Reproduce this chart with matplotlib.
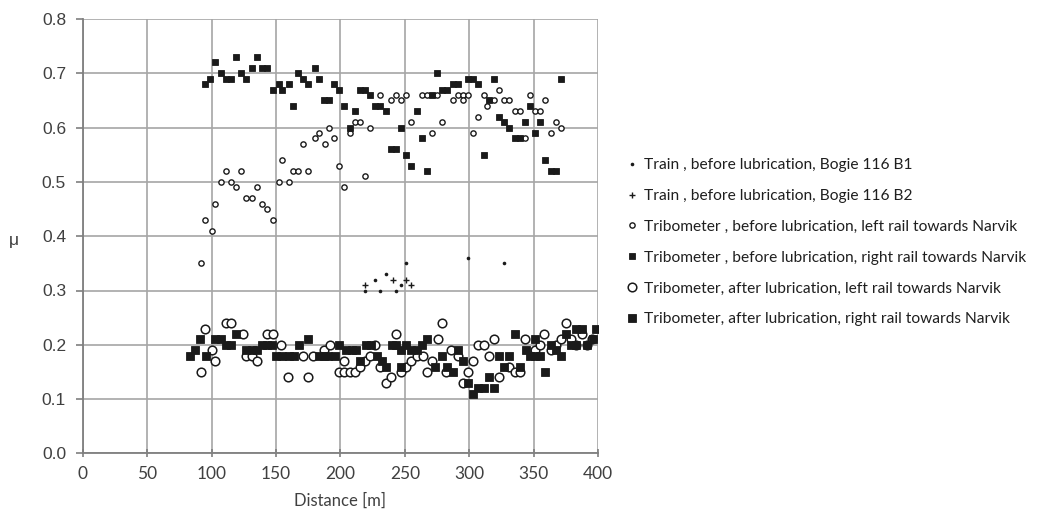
import matplotlib
matplotlib.use("Agg")
import matplotlib.pyplot as plt
from matplotlib.lines import Line2D

# Distance along the track [m] and friction coefficient mu for each series
train_b1_x = [219, 227, 231, 235, 243, 247, 251, 299, 327]
train_b1_y = [0.30, 0.32, 0.30, 0.33, 0.30, 0.31, 0.35, 0.36, 0.35]

train_b2_x = [219, 241, 251, 255]
train_b2_y = [0.31, 0.32, 0.32, 0.31]

tribo_before_left_x = [92, 95, 100, 103, 107, 111, 115, 119, 123, 127,
                       131, 135, 139, 143, 148, 152, 155, 160, 163, 167,
                       171, 175, 180, 183, 188, 191, 195, 199, 203, 207,
                       211, 215, 219, 223, 231, 239, 243, 247, 251, 255,
                       263, 267, 271, 275, 279, 287, 291, 295, 295, 299,
                       303, 307, 311, 314, 319, 323, 327, 331, 335, 339,
                       343, 347, 351, 355, 359, 363, 367, 371]
tribo_before_left_y = [0.35, 0.43, 0.41, 0.46, 0.50, 0.52, 0.50, 0.49, 0.52, 0.47,
                       0.47, 0.49, 0.46, 0.45, 0.43, 0.50, 0.54, 0.50, 0.52, 0.52,
                       0.57, 0.52, 0.58, 0.59, 0.57, 0.60, 0.58, 0.53, 0.49, 0.59,
                       0.61, 0.61, 0.51, 0.60, 0.66, 0.65, 0.66, 0.65, 0.66, 0.61,
                       0.66, 0.66, 0.59, 0.66, 0.61, 0.65, 0.66, 0.66, 0.65, 0.66,
                       0.59, 0.62, 0.66, 0.64, 0.65, 0.67, 0.65, 0.65, 0.63, 0.63,
                       0.58, 0.66, 0.63, 0.63, 0.65, 0.59, 0.61, 0.60]

tribo_before_right_x = [95, 99, 103, 107, 111, 115, 119, 123, 127, 131,
                        135, 139, 143, 148, 152, 155, 160, 163, 167, 171,
                        175, 180, 183, 187, 191, 195, 199, 203, 207, 211,
                        215, 219, 223, 227, 231, 235, 239, 243, 247, 251,
                        255, 259, 263, 267, 271, 275, 279, 283, 287, 291,
                        299, 303, 307, 311, 315, 319, 323, 327, 331, 335,
                        339, 343, 347, 351, 355, 359, 363, 367, 371]
tribo_before_right_y = [0.68, 0.69, 0.72, 0.70, 0.69, 0.69, 0.73, 0.70, 0.69, 0.71,
                        0.73, 0.71, 0.71, 0.67, 0.68, 0.67, 0.68, 0.64, 0.70, 0.69,
                        0.68, 0.71, 0.69, 0.65, 0.65, 0.68, 0.67, 0.64, 0.60, 0.63,
                        0.67, 0.67, 0.66, 0.64, 0.64, 0.63, 0.56, 0.56, 0.60, 0.55,
                        0.53, 0.63, 0.58, 0.52, 0.66, 0.70, 0.67, 0.67, 0.68, 0.68,
                        0.69, 0.69, 0.68, 0.55, 0.65, 0.69, 0.62, 0.61, 0.60, 0.58,
                        0.58, 0.61, 0.64, 0.59, 0.61, 0.54, 0.52, 0.52, 0.69]

tribo_after_left_x = [92, 95, 100, 103, 111, 115, 124, 127, 131, 135,
                      143, 148, 154, 159, 171, 175, 179, 187, 192, 199,
                      203, 203, 207, 211, 215, 219, 223, 227, 231, 235,
                      239, 243, 247, 251, 255, 259, 264, 267, 271, 276,
                      279, 282, 286, 291, 295, 299, 303, 307, 311, 315,
                      319, 323, 331, 335, 339, 343, 351, 355, 358, 363,
                      367, 371, 375, 379, 383, 387, 391, 395]
tribo_after_left_y = [0.15, 0.23, 0.19, 0.17, 0.24, 0.24, 0.22, 0.18, 0.18, 0.17,
                      0.22, 0.22, 0.20, 0.14, 0.18, 0.14, 0.18, 0.19, 0.20, 0.15,
                      0.15, 0.17, 0.15, 0.15, 0.16, 0.17, 0.18, 0.20, 0.16, 0.13,
                      0.14, 0.22, 0.15, 0.16, 0.17, 0.18, 0.18, 0.15, 0.17, 0.21,
                      0.24, 0.15, 0.19, 0.18, 0.13, 0.15, 0.17, 0.20, 0.20, 0.18,
                      0.21, 0.14, 0.16, 0.15, 0.15, 0.21, 0.19, 0.20, 0.22, 0.19,
                      0.20, 0.21, 0.24, 0.21, 0.20, 0.22, 0.20, 0.21]

tribo_after_right_x = [83, 87, 91, 96, 103, 107, 111, 115, 119, 127,
                       131, 135, 139, 143, 147, 150, 155, 160, 164, 168,
                       175, 183, 187, 190, 196, 199, 204, 209, 212, 215,
                       220, 224, 228, 232, 235, 240, 243, 247, 247, 251,
                       255, 259, 263, 267, 273, 279, 283, 287, 291, 295,
                       299, 303, 307, 311, 315, 319, 323, 327, 331, 335,
                       339, 344, 347, 351, 351, 355, 359, 363, 367, 371,
                       375, 379, 383, 383, 387, 391, 396, 398]
tribo_after_right_y = [0.18, 0.19, 0.21, 0.18, 0.21, 0.21, 0.20, 0.20, 0.22, 0.19,
                       0.19, 0.19, 0.20, 0.20, 0.20, 0.18, 0.18, 0.18, 0.18, 0.20,
                       0.21, 0.18, 0.18, 0.18, 0.18, 0.20, 0.19, 0.19, 0.19, 0.17,
                       0.20, 0.20, 0.18, 0.17, 0.16, 0.20, 0.20, 0.19, 0.16, 0.20,
                       0.19, 0.19, 0.20, 0.21, 0.16, 0.18, 0.16, 0.15, 0.19, 0.17,
                       0.13, 0.11, 0.12, 0.12, 0.14, 0.12, 0.18, 0.16, 0.18, 0.22,
                       0.16, 0.19, 0.18, 0.18, 0.21, 0.18, 0.15, 0.20, 0.19, 0.18,
                       0.22, 0.20, 0.20, 0.23, 0.23, 0.20, 0.21, 0.23]

series_labels = [
    "Train , before lubrication, Bogie 116 B1",
    "Train , before lubrication, Bogie 116 B2",
    "Tribometer , before lubrication, left rail towards Narvik",
    "Tribometer , before lubrication, right rail towards Narvik",
    "Tribometer, after lubrication, left rail towards Narvik",
    "Tribometer, after lubrication, right rail towards Narvik",
]

x_ticks = [0, 50, 100, 150, 200, 250, 300, 350, 400]
y_ticks = [0.0, 0.1, 0.2, 0.3, 0.4, 0.5, 0.6, 0.7, 0.8]

W, H = 1048, 514
fig = plt.figure(figsize=(W / 100, H / 100), dpi=100)
ax = fig.add_axes([82.7 / W, 1 - 453.4 / H, (598.3 - 82.7) / W, (453.4 - 19) / H])

ink = "#1a1a1a"
styles = [
    dict(marker="o", ms=2.6, mfc=ink, mec=ink, mew=0.0),
    dict(marker="+", ms=5.0, mfc="none", mec=ink, mew=1.0),
    dict(marker="o", ms=3.8, mfc="white", mec=ink, mew=1.0),
    dict(marker="s", ms=3.8, mfc=ink, mec=ink, mew=0.6),
    dict(marker="o", ms=6.2, mfc="white", mec=ink, mew=1.1),
    dict(marker="s", ms=5.6, mfc=ink, mec=ink, mew=0.6),
]
data = [
    (train_b1_x, train_b1_y),
    (train_b2_x, train_b2_y),
    (tribo_before_left_x, tribo_before_left_y),
    (tribo_before_right_x, tribo_before_right_y),
    (tribo_after_left_x, tribo_after_left_y),
    (tribo_after_right_x, tribo_after_right_y),
]
draw_order = [4, 5, 2, 3, 0, 1]
for i in draw_order:
    xs, ys = data[i]
    ax.plot(xs, ys, linestyle="none", zorder=3 + i, **styles[i])

ax.set_xlim(0, 400)
ax.set_ylim(0, 0.8)
ax.set_xticks(x_ticks)
ax.set_yticks(y_ticks)
ax.set_yticklabels([f"{v:.1f}" for v in y_ticks], family="Liberation Sans", fontsize=12.5, color="#404040")
ax.set_xticklabels([str(v) for v in x_ticks], family="Lato", fontsize=12.5, color="#404040")
ax.grid(True, color="#a6a6a6", linewidth=1.2, zorder=0)
ax.set_axisbelow(True)
for side in ("top", "right"):
    ax.spines[side].set_visible(False)
for side in ("left", "bottom"):
    ax.spines[side].set_color("#7f7f7f")
    ax.spines[side].set_linewidth(1.3)
ax.tick_params(axis="y", direction="out", length=5, width=1.2, color="#7f7f7f", pad=7)
ax.tick_params(axis="x", direction="inout", length=6, width=1.2, color="#7f7f7f", pad=6)

ax.set_xlabel("Distance [m]", family="Lato", fontsize=12, color="#404040", labelpad=8)
fig.text(14 / W, 1 - 241 / H, "μ", family="Liberation Sans", fontsize=12.5,
         color="#404040", ha="center", va="center")

handles = [Line2D([], [], linestyle="none", **styles[i]) for i in range(6)]
leg = fig.legend(handles, series_labels, loc="upper left",
                 bbox_to_anchor=(620 / W, 1 - 152 / H), frameon=False,
                 prop=dict(family="Lato", size=11.2), labelspacing=1.08,
                 handlelength=0.8, handletextpad=0.35, borderaxespad=0)
for t in leg.get_texts():
    t.set_color("#1f1f1f")

fig.savefig("out.png", dpi=100)
